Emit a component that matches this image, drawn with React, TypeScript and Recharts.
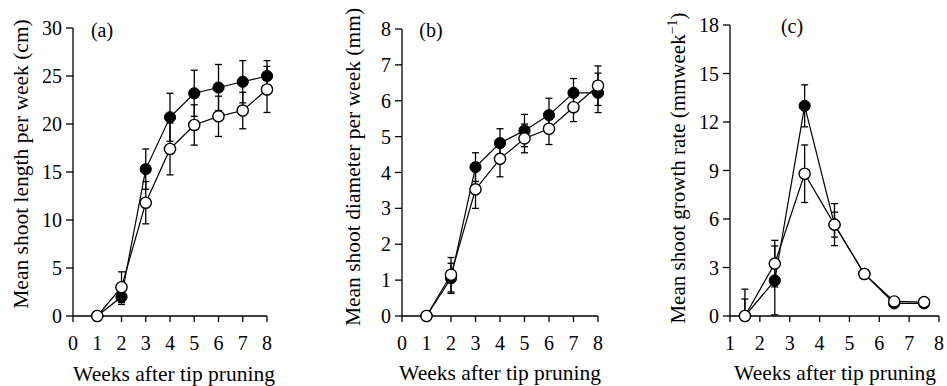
import React from 'react';
import { LineChart, Line, XAxis, YAxis, ErrorBar, Label } from 'recharts';

const weeksAB = [1, 2, 3, 4, 5, 6, 7, 8];
const lengthFilled = [0, 2.0, 15.3, 20.7, 23.2, 23.8, 24.4, 25.0];
const lengthFilledErr = [0, 0.8, 2.1, 2.5, 2.4, 2.4, 2.2, 1.6];
const lengthOpen = [0, 3.0, 11.8, 17.4, 19.9, 20.8, 21.4, 23.6];
const lengthOpenErr = [0, 1.6, 2.2, 2.7, 2.1, 2.1, 1.9, 2.4];

const diaFilled = [0, 1.05, 4.15, 4.82, 5.17, 5.6, 6.22, 6.22];
const diaFilledErr = [0, 0.42, 0.4, 0.4, 0.45, 0.47, 0.4, 0.55];
const diaOpen = [0, 1.15, 3.53, 4.38, 4.95, 5.22, 5.82, 6.42];
const diaOpenErr = [0, 0.48, 0.53, 0.5, 0.4, 0.44, 0.4, 0.55];

const weeksC = [1.5, 2.5, 3.5, 4.5, 5.5, 6.5, 7.5];
const rateFilled = [0, 2.2, 13.0, 5.65, 2.6, 0.78, 0.78];
const rateFilledErr: (number | number[])[] = [[0, 1.05], 2.13, 1.3, 0.77, 0, 0, 0];
const rateOpen = [0, 3.24, 8.8, 5.65, 2.6, 0.9, 0.86];
const rateOpenErr: (number | number[])[] = [[0, 1.66], 1.44, 1.78, 1.3, 0, 0, 0];

const ticksA = [0, 5, 10, 15, 20, 25, 30];
const ticksB = [0, 1, 2, 3, 4, 5, 6, 7, 8];
const ticksC = [0, 3, 6, 9, 12, 15, 18];
const xTicksAB = [0, 1, 2, 3, 4, 5, 6, 7, 8];
const xTicksC = [1, 2, 3, 4, 5, 6, 7, 8];

const build = (xs: number[], f: number[], fe: any[], o: number[], oe: any[]) =>
  xs.map((x, i) => ({ x, filled: f[i], filledErr: fe[i], open: o[i], openErr: oe[i] }));

const dataA = build(weeksAB, lengthFilled, lengthFilledErr, lengthOpen, lengthOpenErr);
const dataB = build(weeksAB, diaFilled, diaFilledErr, diaOpen, diaOpenErr);
const dataC = build(weeksC, rateFilled, rateFilledErr, rateOpen, rateOpenErr);

const FONT = 'Liberation Serif, Times New Roman, serif';
const tickStyle = { fill: '#000', fontSize: 20, fontFamily: FONT };

const yTitle = (cx: number, cy: number, size: number, text: string, sup?: string) => () => (
  <text
    x={cx}
    y={cy}
    dy="0.35em"
    transform={`rotate(-90, ${cx}, ${cy})`}
    textAnchor="middle"
    fontFamily={FONT}
    fontSize={size}
    fill="#000"
  >
    {text}
    {sup ? (
      <>
        <tspan dy={-8} fontSize={14}>{sup}</tspan>
        <tspan dy={8}>)</tspan>
      </>
    ) : null}
  </text>
);

const plainText = (x: number, y: number, text: string, size: number) => () => (
  <text x={x} y={y} textAnchor="middle" fontFamily={FONT} fontSize={size} fill="#000">
    {text}
  </text>
);

type PanelProps = {
  data: any[];
  left: number;
  width: number;
  top: number;
  right: number;
  yWidth: number;
  yDomain: [number, number];
  yTicks: number[];
  xDomain: [number, number];
  xTicks: number[];
  yLabel: () => React.ReactElement;
  xLabel: () => React.ReactElement;
  letter: () => React.ReactElement;
};

function Panel(p: PanelProps) {
  return (
    <div style={{ position: 'absolute', left: p.left, top: 0 }}>
      <LineChart
        width={p.width}
        height={386}
        data={p.data}
        margin={{ top: p.top, right: p.right, bottom: 0, left: 0 }}
      >
        <XAxis
          dataKey="x"
          type="number"
          domain={p.xDomain}
          ticks={p.xTicks}
          height={70}
          tickSize={6}
          tickMargin={14}
          tick={tickStyle}
          stroke="#000"
          strokeWidth={1.3}
          interval={0}
        >
          <Label content={p.xLabel} />
        </XAxis>
        <YAxis
          type="number"
          domain={p.yDomain}
          ticks={p.yTicks}
          width={p.yWidth}
          tickSize={7}
          tickMargin={4}
          tick={tickStyle}
          stroke="#000"
          strokeWidth={1.3}
          interval={0}
        >
          <Label content={p.yLabel} />
          <Label content={p.letter} />
        </YAxis>
        <Line
          dataKey="filled"
          stroke="#000"
          strokeWidth={1.2}
          isAnimationActive={false}
          dot={{ r: 5.6, fill: '#000', stroke: '#000', strokeWidth: 1 }}
          activeDot={false}
        >
          <ErrorBar dataKey="filledErr" direction="y" width={3.5} stroke="#000" strokeWidth={1.3} />
        </Line>
        <Line
          dataKey="open"
          stroke="#000"
          strokeWidth={1.2}
          isAnimationActive={false}
          dot={{ r: 5.6, fill: '#fff', stroke: '#000', strokeWidth: 1.4 }}
          activeDot={false}
        >
          <ErrorBar dataKey="openErr" direction="y" width={3.5} stroke="#000" strokeWidth={1.3} />
        </Line>
      </LineChart>
    </div>
  );
}

export default function App() {
  return (
    <div style={{ position: 'absolute', left: 0, top: 0, width: 947, height: 386, background: '#fff' }}>
      <Panel
        data={dataA}
        left={0}
        width={320}
        top={28}
        right={53}
        yWidth={73}
        yDomain={[0, 30]}
        yTicks={ticksA}
        xDomain={[0, 8]}
        xTicks={xTicksAB}
        yLabel={yTitle(20, 164, 21.5, 'Mean shoot length per week (cm)')}
        xLabel={plainText(174, 381, 'Weeks after tip pruning', 21.5)}
        letter={plainText(102, 37, '(a)', 20)}
      />
      <Panel
        data={dataB}
        left={310}
        width={320}
        top={29}
        right={32}
        yWidth={92}
        yDomain={[0, 8]}
        yTicks={ticksB}
        xDomain={[0, 8]}
        xTicks={xTicksAB}
        yLabel={yTitle(42, 167, 21.5, 'Mean shoot diameter per week (mm)')}
        xLabel={plainText(190, 380, 'Weeks after tip pruning', 21.5)}
        letter={plainText(121, 37, '(b)', 20)}
      />
      <Panel
        data={dataC}
        left={620}
        width={327}
        top={25}
        right={8}
        yWidth={110}
        yDomain={[0, 18]}
        yTicks={ticksC}
        xDomain={[1, 8]}
        xTicks={xTicksC}
        yLabel={yTitle(58, 168, 21, 'Mean shoot growth rate (mmweek', '\u22121')}
        xLabel={plainText(215, 380, 'Weeks after tip pruning', 21.5)}
        letter={plainText(172, 33, '(c)', 20)}
      />
    </div>
  );
}
